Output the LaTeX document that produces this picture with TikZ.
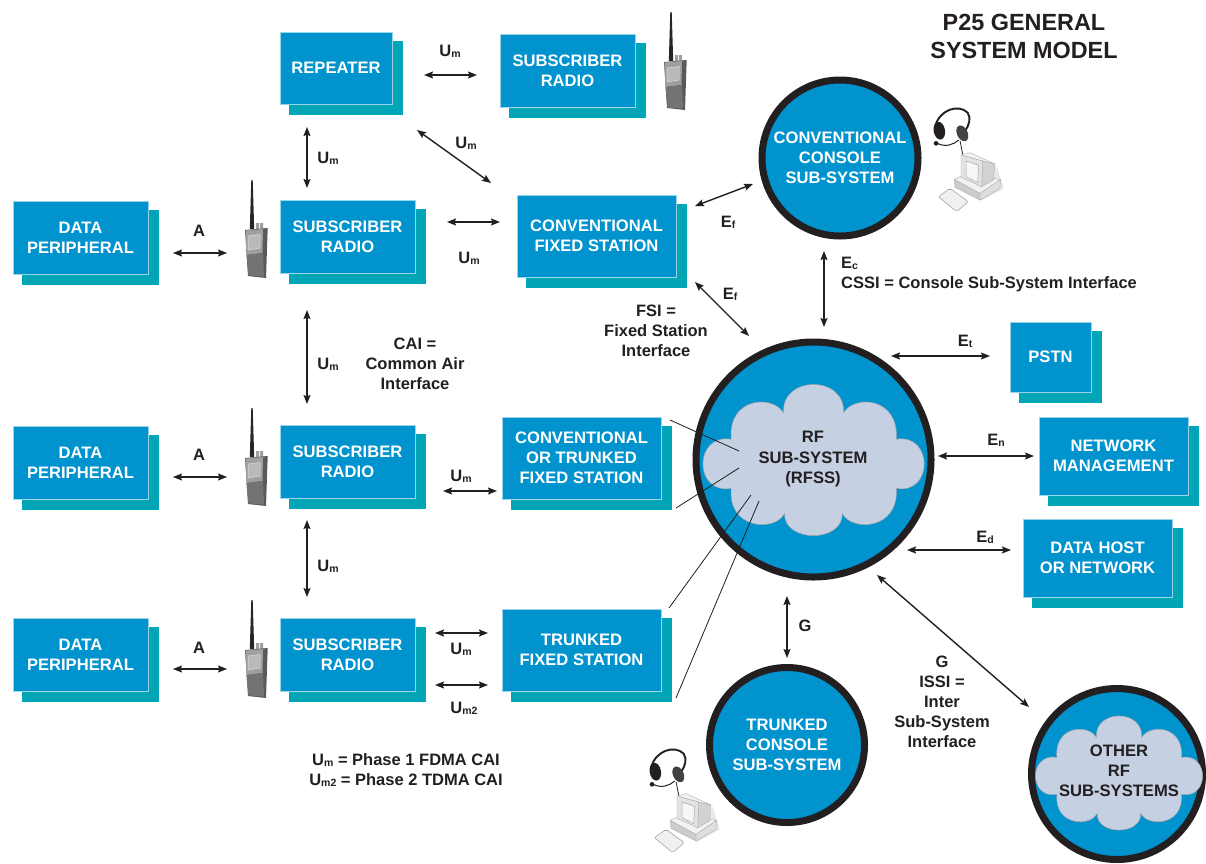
\documentclass[tikz,border=0pt]{standalone}
\usepackage{fontspec}
\setmainfont{Liberation Sans}
\usetikzlibrary{arrows.meta}
\definecolor{pblue}{HTML}{0093CE}
\definecolor{pteal}{HTML}{00A6B6}
\definecolor{pdark}{HTML}{231F20}
\definecolor{pcloud}{HTML}{C5D0E3}
\tikzset{
  pbox/.style={draw=white!60!pblue,line width=.7pt,fill=pblue,text=white,font=\fontsize{16.6}{20}\selectfont\bfseries,align=center,inner sep=0pt,outer sep=0pt},
  pcirc/.style={circle,draw=pdark,line width=7pt,fill=pblue,inner sep=0pt,outer sep=0pt},
  ctext/.style={text=white,font=\fontsize{16.6}{20}\selectfont\bfseries,align=center,inner sep=0pt},
  dtext/.style={text=pdark,font=\fontsize{16.6}{20}\selectfont\bfseries,align=center,inner sep=0pt},
  lab/.style={text=pdark,font=\fontsize{16.5}{20}\selectfont\bfseries,align=center,inner sep=0pt},
  dbl/.style={draw=pdark,line width=1.4pt,{Stealth[length=9pt,width=7pt,inset=1.5pt]}-{Stealth[length=9pt,width=7pt,inset=1.5pt]}},
  thin line/.style={draw=pdark,line width=.8pt},
  cloudfill/.style={fill=pcloud,draw=gray!70,line width=.5pt},
  iconline/.style={draw=gray!65,line width=.4pt},
}
\newcommand\psub[1]{\raisebox{-1pt}{\fontsize{10.5}{10.5}\selectfont #1}}
\newcommand\pboxat[6]{%
  \fill[pteal] ({#2+9},{#3+9}) rectangle ({#4+11},{#5+11});
  \node[pbox,minimum width={(#4-#2)*1pt},minimum height={(#5-#3)*1pt}] (#1) at ({(#2+#4)/2},{(#3+#5)/2}) {#6};}
\newcommand\cloudat[3]{%
  \begin{scope}[shift={(#1,#2)},x=#3pt,y=-#3pt]
  \path[cloudfill] (-82.3,-20.7)
   .. controls (-120,-27) and (-120,35) .. (-82.3,28.3)
   .. controls (-86,70) and (-38,72) .. (-29,53.3)
   .. controls (-30,83) and (30,83) .. (28.7,53.3)
   .. controls (38,72) and (86,70) .. (82.7,28.3)
   .. controls (120,35) and (120,-27) .. (82.7,-20.7)
   .. controls (86,-62) and (42,-66) .. (30,-47.3)
   .. controls (32,-85) and (-32,-85) .. (-30,-47.3)
   .. controls (-42,-66) and (-86,-62) .. (-82.3,-20.7) -- cycle;
  \end{scope}}
\newcommand\radioat[2]{%
  \begin{scope}[shift={(#1,#2)}]
  \fill[black!85] (-.7,0) -- (.7,0) -- (2.2,49) -- (-2.2,49) -- cycle;
  \fill[gray!75] (4,43) rectangle (7,49) (8,43) rectangle (11,49);
  \fill[black!65] (-7,50) -- (15.7,48) -- (14,98) -- (-4,96) -- cycle;
  \fill[gray!75] (-6.5,50.5) -- (11,49) -- (10.5,73) -- (-5.5,75) -- cycle;
  \fill[gray!55,draw=white!75!gray,line width=.5pt] (-4,56) -- (8,54.5) -- (8,68) -- (-4,70) -- cycle;
  \fill[black!55] (-5.5,75) -- (11,73) -- (12,96.5) -- (-3.5,95.5) -- cycle;
  \end{scope}}
\newcommand\consoleat[2]{%
  \begin{scope}[shift={(#1,#2)},x=.3333pt,y=-.3333pt]
  \fill[gray!18] (240,335) -- (312,295) -- (300,262) -- (290,225) -- (275,270) -- cycle;
  \path[fill=gray!25,iconline] (240,310) -- (302,268) -- (300,295) -- (240,330) -- cycle;
  \path[fill=gray!40,iconline] (163,268) -- (240,310) -- (240,330) -- (165,292) -- cycle;
  \path[fill=gray!10,iconline] (163,268) -- (190,255) -- (302,268) -- (240,310) -- cycle;
  \path[fill=gray!35,iconline] (248,213) -- (285,222) -- (280,270) -- (245,290) -- cycle;
  \path[fill=gray!10,iconline] (183,195) -- (210,188) -- (285,222) -- (248,213) -- cycle;
  \path[fill=gray!22,iconline] (183,195) -- (248,213) -- (245,290) -- (183,262) -- cycle;
  \path[fill=gray!6,draw=gray!70,line width=.5pt] (198,213) -- (236,226) -- (233,278) -- (198,260) -- cycle;
  \path[fill=gray!12,draw=gray!70,line width=.6pt,rounded corners=2pt] (115,320) -- (150,295) -- (205,335) -- (170,365) -- cycle;
  \draw[pdark,line width=1.9pt] (106,108) .. controls (118,60) and (175,40) .. (203,68) .. controls (214,85) and (207,105) .. (196,122);
  \fill[pdark,rotate around={10:(118,122)}] (118,122) ellipse [x radius=17,y radius=27];
  \fill[pdark!85,rotate around={25:(187,130)}] (187,130) ellipse [x radius=16,y radius=25];
  \draw[pdark,line width=1pt] (112,160) .. controls (135,172) and (160,165) .. (176,150);
  \fill[pdark] (108,160) circle [radius=7];
  \draw[pdark,line width=.8pt] (180,152) -- (188,192);
  \end{scope}}
\begin{document}
\begin{tikzpicture}[x=1pt,y=-1pt]
\useasboundingbox (0,0) rectangle (1206,863);
% boxes
\pboxat{rep}{280}{32}{392}{104}{REPEATER}
\pboxat{srt}{500}{34}{635}{107}{SUBSCRIBER\\RADIO}
\pboxat{dpa}{13}{201}{148}{274}{DATA\\PERIPHERAL}
\pboxat{sra}{280}{200}{415}{273}{SUBSCRIBER\\RADIO}
\pboxat{cfs}{517}{195}{676}{277}{CONVENTIONAL\\FIXED STATION}
\pboxat{dpb}{13}{426}{148}{499}{DATA\\PERIPHERAL}
\pboxat{srb}{280}{425}{415}{498}{SUBSCRIBER\\RADIO}
\pboxat{ctf}{502}{417}{661}{499}{CONVENTIONAL\\OR TRUNKED\\FIXED STATION}
\pboxat{dpc}{13}{618}{148}{691}{DATA\\PERIPHERAL}
\pboxat{src}{280}{618}{415}{691}{SUBSCRIBER\\RADIO}
\pboxat{tfs}{502}{609}{661}{691}{TRUNKED\\FIXED STATION}
\pboxat{pstn}{1010}{322}{1091}{392}{PSTN}
\pboxat{nm}{1039}{417}{1188}{495}{NETWORK\\MANAGEMENT}
\pboxat{dh}{1023}{519}{1172}{597}{DATA HOST\\OR NETWORK}
% circles
\node[pcirc,minimum size=156pt] (ccs) at (840,158) {};
\node[pcirc,minimum size=235pt] (rfss) at (813.5,459.5) {};
\node[pcirc,minimum size=155pt] (tcs) at (787,745) {};
\node[pcirc,minimum size=171pt] (ors) at (1117,774) {};
\cloudat{813.5}{460}{1}
\cloudat{1119}{773}{.755}
\node[ctext] (ccst) at (840,158) {CONVENTIONAL\\CONSOLE\\SUB-SYSTEM};
\node[ctext] (tcst) at (787,745) {TRUNKED\\CONSOLE\\SUB-SYSTEM};
\node[dtext] (rfsst) at (813,459) {RF\\SUB-SYSTEM\\(RFSS)};
\node[dtext] (orst) at (1119,771) {OTHER\\RF\\SUB-SYSTEMS};
% radios and consoles
\radioat{252}{180}
\radioat{252}{408}
\radioat{252}{600}
\radioat{671}{12}
\consoleat{900}{90}
\consoleat{616}{731}
% thin lines into the cloud
\coordinate (ia) at (739,451);
\coordinate (ib) at (739,468);
\coordinate (ic) at (751,495);
\coordinate (id) at (759,501);
\draw[thin line] ([xshift=9pt,yshift=-3pt]ctf.north east) -- (ia);
\draw[thin line] ([xshift=15pt,yshift=-9pt]ctf.south east) -- (ib);
\draw[thin line] ([xshift=8pt,yshift=1pt]tfs.north east) -- (ic);
\draw[thin line] ([xshift=15pt,yshift=-7pt]tfs.south east) -- (id);
% double arrows
\coordinate (a1) at (424,75);\coordinate (a2) at (477,75);
\draw[dbl] (a1) -- (a2);
\coordinate (b1) at (307,127);\coordinate (b2) at (307,188);
\draw[dbl] (b1) -- (b2);
\coordinate (c1) at (417,130);\coordinate (c2) at (491,183);
\draw[dbl] (c1) -- (c2);
\coordinate (d1) at (447,222);\coordinate (d2) at (500,222);
\draw[dbl] (d1) -- (d2);
\coordinate (e1) at (173,253);\coordinate (e2) at (227,253);
\draw[dbl] (e1) -- (e2);
\coordinate (f1) at (695,206);\coordinate (f2) at (753,184);
\draw[dbl] (f1) -- (f2);
\coordinate (g1) at (695,282);\coordinate (g2) at (749,336);
\draw[dbl] (g1) -- (g2);
\coordinate (h1) at (824,251);\coordinate (h2) at (824,327);
\draw[dbl] (h1) -- (h2);
\coordinate (i1) at (891,356);\coordinate (i2) at (990,356);
\draw[dbl] (i1) -- (i2);
\coordinate (j1) at (938,456);\coordinate (j2) at (1034,456);
\draw[dbl] (j1) -- (j2);
\coordinate (k1) at (907,550);\coordinate (k2) at (1011,550);
\draw[dbl] (k1) -- (k2);
\coordinate (l1) at (877,575);\coordinate (l2) at (1029,707);
\draw[dbl] (l1) -- (l2);
\coordinate (m1) at (787,596);\coordinate (m2) at (787,658);
\draw[dbl] (m1) -- (m2);
\coordinate (n1) at (307,310);\coordinate (n2) at (307,404);
\draw[dbl] (n1) -- (n2);
\coordinate (o1) at (307,520);\coordinate (o2) at (307,597);
\draw[dbl] (o1) -- (o2);
\coordinate (p1) at (173,477);\coordinate (p2) at (227,477);
\draw[dbl] (p1) -- (p2);
\coordinate (q1) at (173,669);\coordinate (q2) at (227,669);
\draw[dbl] (q1) -- (q2);
\coordinate (r1) at (443,491);\coordinate (r2) at (497,491);
\draw[dbl] (r1) -- (r2);
\coordinate (s1) at (435,633);\coordinate (s2) at (488,633);
\draw[dbl] (s1) -- (s2);
\coordinate (t1) at (435,685);\coordinate (t2) at (488,685);
\draw[dbl] (t1) -- (t2);
% labels
\node[lab] (l01) at (450,51) {U\psub{m}};
\node[lab] (l02) at (466,143) {U\psub{m}};
\node[lab] (l03) at (328,158) {U\psub{m}};
\node[lab] (l04) at (469,258) {U\psub{m}};
\node[lab] (l05) at (328,364) {U\psub{m}};
\node[lab] (l06) at (461,476) {U\psub{m}};
\node[lab] (l07) at (328,566) {U\psub{m}};
\node[lab] (l08) at (461,649) {U\psub{m}};
\node[lab] (l09) at (464,708) {U\psub{m2}};
\node[lab] (l10) at (199,231) {A};
\node[lab] (l11) at (199,455) {A};
\node[lab] (l12) at (199,648) {A};
\node[lab] (l13) at (728,222) {E\psub{f}};
\node[lab] (l14) at (730,294) {E\psub{f}};
\node[lab,anchor=west] (l15) at (841,263) {E\psub{c}};
\node[lab,anchor=west] (l16) at (841,284) {CSSI = Console Sub-System Interface};
\node[lab] (l17) at (965,341) {E\psub{t}};
\node[lab] (l18) at (996,440) {E\psub{n}};
\node[lab] (l19) at (985,537) {E\psub{d}};
\node[lab] (l20) at (805,626) {G};
\node[lab] (l21) at (656,331) {FSI =\\Fixed Station\\Interface};
\node[lab] (l22) at (415,364) {CAI =\\Common Air\\Interface};
\node[lab] (l23) at (942,702) {G\\ISSI =\\Inter\\Sub-System\\Interface};
\node[lab] (l24) at (406,770) {U\psub{m} = Phase 1 FDMA CAI\\U\psub{m2} = Phase 2 TDMA CAI};
\node[text=pdark,font=\fontsize{23.4}{28}\selectfont\bfseries,align=center,inner sep=0pt] (title) at (1024,36) {P25 GENERAL\\SYSTEM MODEL};
\end{tikzpicture}
\end{document}
